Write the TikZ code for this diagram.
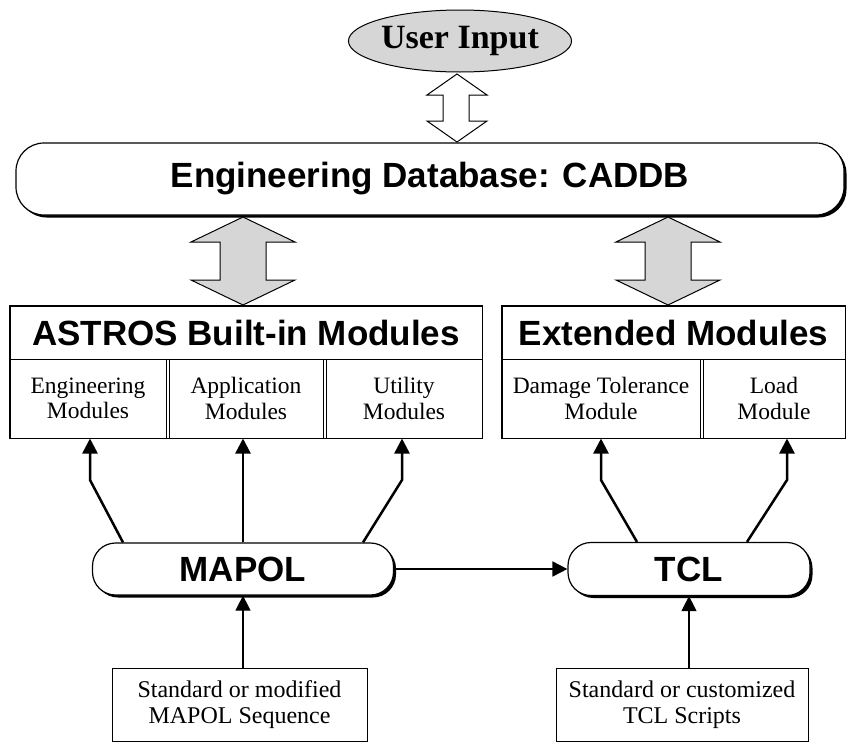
\documentclass[tikz,border=0pt]{standalone}
\usepackage{fontspec}
\setmainfont{Liberation Serif}
\newfontfamily\headfont{Liberation Sans}
\usetikzlibrary{arrows.meta,shapes.geometric,shadows}

\definecolor{stipple}{gray}{0.84}

\tikzset{
  bigfont/.style={font=\headfont\bfseries\fontsize{35}{40}\selectfont},
  roundbox/.style={draw, line width=1.2pt, rounded corners=28pt, fill=white, inner sep=0pt,
    drop shadow={shadow xshift=2.5pt, shadow yshift=-2.5pt, fill=black, opacity=1}, bigfont},
  headbox/.style={draw, line width=1pt, minimum height=53pt, inner sep=0pt, bigfont},
  modbox/.style={draw, line width=1pt, minimum height=79pt, inner sep=0pt, align=center,
    font=\fontsize{23.5}{25.5}\selectfont},
  srcbox/.style={draw, line width=1pt, minimum height=73pt, inner sep=0pt, align=center,
    font=\fontsize{24}{25.5}\selectfont},
  uparrow/.style={line width=2.5pt, line join=miter, -{Triangle[width=15pt,length=15pt]}},
  thinarrow/.style={line width=1.2pt, -{Triangle[width=15pt,length=15pt]}},
  fatarrow/.style={draw, line width=1pt, line join=miter}
}

\begin{document}
\begin{tikzpicture}[x=1pt, y=-1pt]
	\useasboundingbox (0,0) rectangle (849,742);

	% top: user input and database
	\node[ellipse, draw, line width=1pt, fill=stipple, minimum width=200pt, minimum height=62pt, inner sep=0pt,
	      font=\bfseries\fontsize{34}{38}\selectfont] (user) at (460,41) {User Input};
	\node[roundbox, minimum width=828pt, minimum height=72pt] (caddb) at (430,179) {Engineering Database: CADDB};

	% hollow two-way arrow
	\draw[fatarrow, fill=white] (457,74) -- (487,95) -- (469,95) -- (469,121) -- (487,121) -- (457,142)
		-- (427,121) -- (443,121) -- (443,95) -- (427,95) -- cycle;
	% shaded two-way arrows
	\foreach \xc in {243,668} {
		\draw[fatarrow, fill=stipple] (\xc,217) -- (\xc+52,242) -- (\xc+23,242) -- (\xc+23,280) -- (\xc+52,280)
			-- (\xc,305) -- (\xc-52,280) -- (\xc-23,280) -- (\xc-23,242) -- (\xc-52,242) -- cycle;
	}

	% module blocks
	\node[headbox, minimum width=472pt] (astros) at (246,332.5) {ASTROS Built-in Modules};
	\node[modbox, minimum width=156pt] (eng) at (88,398.5) {Engineering\\Modules};
	\node[modbox, minimum width=154pt] (app) at (246,398.5) {Application\\Modules};
	\node[modbox, minimum width=156pt] (util) at (404,398.5) {Utility\\Modules};
	\draw[line width=1pt] (astros.north west) rectangle (util.south east);

	\node[headbox, minimum width=343pt] (ext) at (673.5,332.5) {Extended Modules};
	\node[modbox, minimum width=198pt] (dmg) at (601,398.5) {Damage Tolerance\\Module};
	\node[modbox, minimum width=142pt] (load) at (774,398.5) {Load\\Module};
	\draw[line width=1pt] (ext.north west) rectangle (load.south east);

	% drivers
	\node[roundbox, rounded corners=23pt, minimum width=301pt, minimum height=52pt] (mapol) at (243,569) {MAPOL};
	\node[roundbox, rounded corners=23pt, minimum width=242pt, minimum height=53pt] (tcl) at (689,569) {TCL};
	\coordinate (bend) at (0,480);

	\draw[uparrow] ([xshift=-120pt]mapol.north) -- ([xshift=2pt]eng.south |- bend) -- ([xshift=2pt]eng.south);
	\draw[uparrow] (mapol.north) -- (mapol.north |- app.south);
	\draw[uparrow] ([xshift=120pt]mapol.north) -- ([xshift=-2pt]util.south |- bend) -- ([xshift=-2pt]util.south);
	\draw[uparrow] ([xshift=-52pt]tcl.north) -- (dmg.south |- bend) -- (dmg.south);
	\draw[uparrow] ([xshift=58pt]tcl.north) -- ([xshift=13pt]load.south |- bend) -- ([xshift=13pt]load.south);
	\draw[line width=1.8pt, -{Triangle[width=15pt,length=15pt]}] (mapol.east) -- (tcl.west);

	% sources
	\node[srcbox, minimum width=255pt] (mseq) at (239.5,704.5) {Standard or modified\\MAPOL Sequence};
	\node[srcbox, minimum width=252pt] (tscr) at (682,704.5) {Standard or customized\\TCL Scripts};
	\draw[thinarrow] (mapol.south |- mseq.north) -- (mapol.south);
	\draw[thinarrow] (tcl.south |- tscr.north) -- (tcl.south);
\end{tikzpicture}
\end{document}
